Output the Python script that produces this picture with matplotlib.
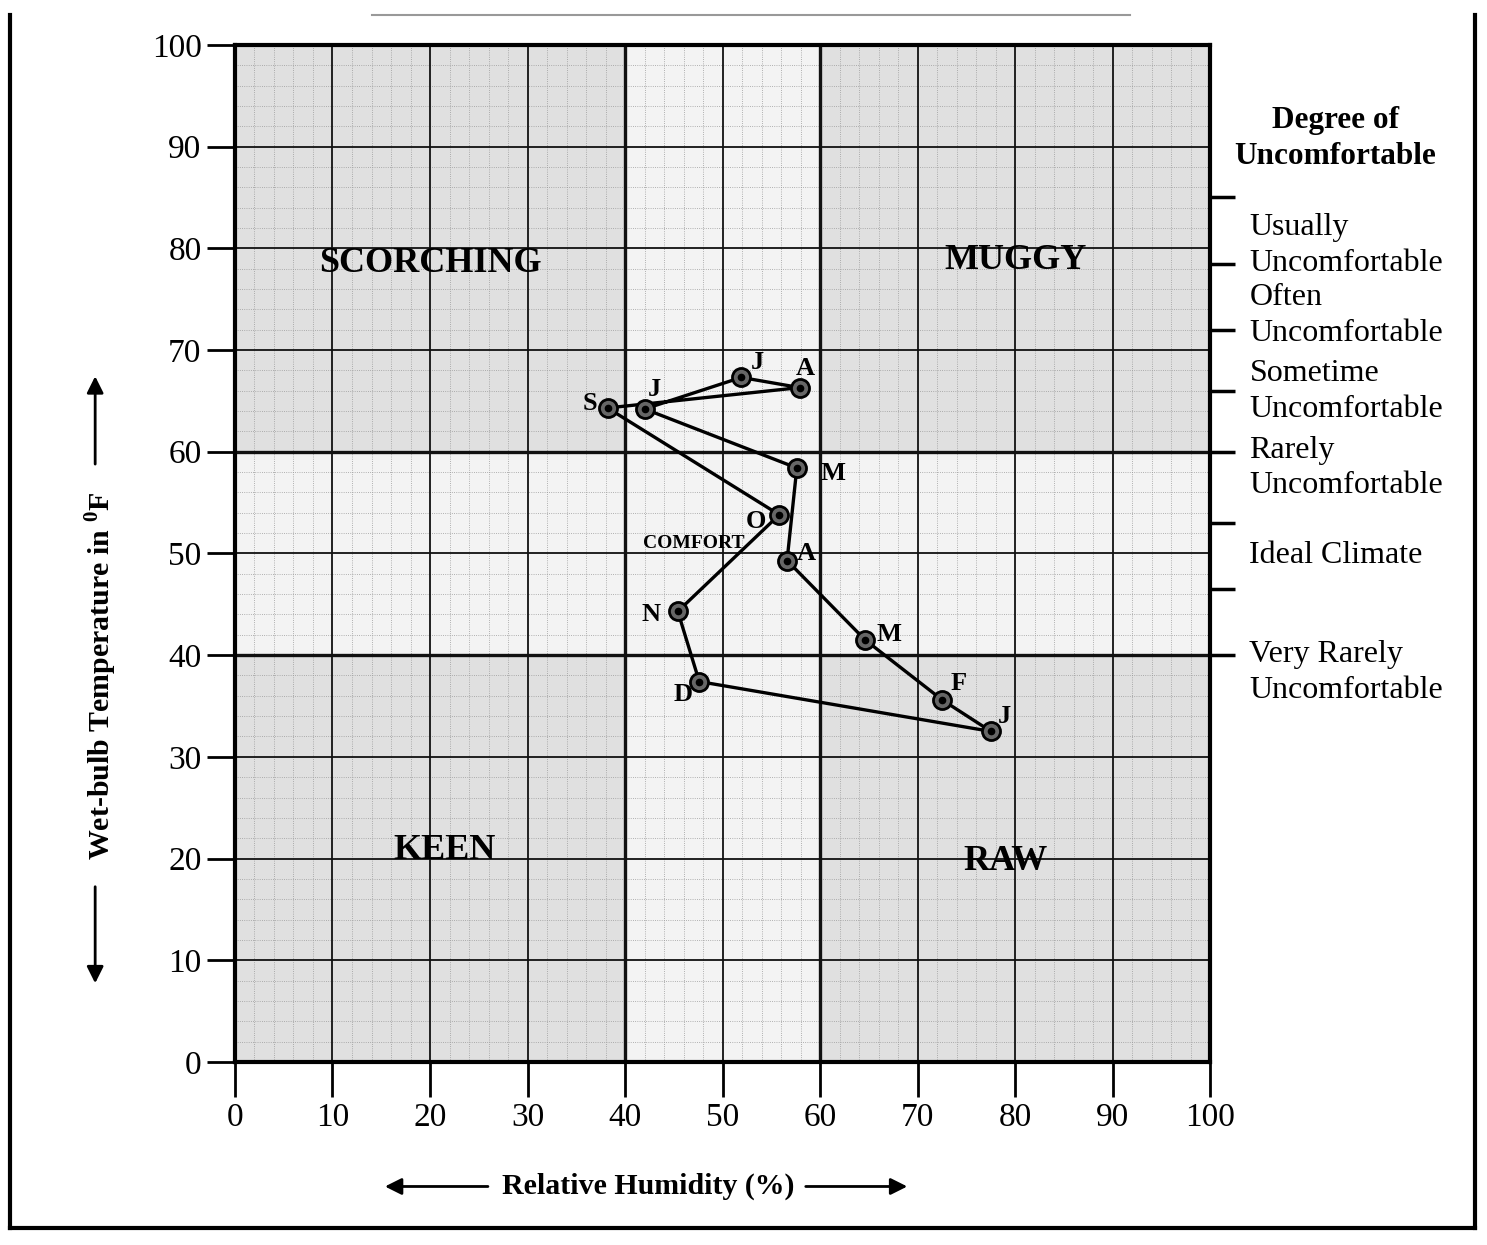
import matplotlib.pyplot as plt
from matplotlib.patches import Rectangle, FancyArrowPatch
from matplotlib.lines import Line2D

plt.rcParams['font.family'] = ['Liberation Serif', 'DejaVu Serif']
plt.rcParams['mathtext.fontset'] = 'stix'

# monthly values (Jan..Dec), path closes back to Jan
months = ['J', 'F', 'M', 'A', 'M', 'J', 'J', 'A', 'S', 'O', 'N', 'D']
humidity = [77.5, 72.5, 64.6, 56.6, 57.6, 42.0, 51.9, 57.9, 38.2, 55.8, 45.4, 47.6]
wet_bulb = [32.5, 35.6, 41.5, 49.3, 58.4, 64.2, 67.3, 66.3, 64.3, 53.8, 44.3, 37.4]

# label offsets (points) for the month letters
label_offsets = [(10, 11), (12, 12), (17, 4), (14, 5), (26, -4), (7, 14),
                 (12, 11), (4, 14), (-13, 3), (-17, -5), (-19, -2), (-12, -9)]

zones = ['SCORCHING', 'MUGGY', 'KEEN', 'RAW']
zone_x = [20, 80, 21.5, 79]
zone_y = [78.5, 78.8, 20.8, 19.7]

comfort_bounds = [85, 78.5, 72, 66, 60, 53, 46.5, 40]
comfort_labels = ['Usually\nUncomfortable', 'Often\nUncomfortable',
                  'Sometime\nUncomfortable', 'Rarely\nUncomfortable',
                  'Ideal Climate', 'Very Rarely\nUncomfortable']
comfort_label_y = [80.3, 73.4, 65.9, 58.4, 49.8, 38.3]

fig = plt.figure(figsize=(14.87, 12.45), dpi=100)
ax = fig.add_axes([0.158, 0.147, 0.656, 0.817])
ax.set_xlim(0, 100)
ax.set_ylim(0, 100)
ax.set_facecolor('#f3f3f3')

# shaded corner zones
for x0, y0 in [(0, 60), (60, 60), (0, 0), (60, 0)]:
    ax.add_patch(Rectangle((x0, y0), 40, 40, facecolor='#e0e0e0', edgecolor='none', zorder=0))

# fine graph-paper grid
for v in range(2, 100, 2):
    if v % 10:
        ax.axvline(v, color='#9a9a9a', lw=0.6, ls=':', zorder=1)
        ax.axhline(v, color='#9a9a9a', lw=0.6, ls=':', zorder=1)
for v in range(10, 100, 10):
    w = 2.4 if v in (40, 60) else 1.3
    ax.axvline(v, color='#111111', lw=w, zorder=2)
    ax.axhline(v, color='#111111', lw=w, zorder=2)

for s in ax.spines.values():
    s.set_linewidth(3)

ax.set_xticks(range(0, 101, 10))
ax.set_yticks(range(0, 101, 10))
ax.tick_params(axis='x', direction='out', length=25, width=2, labelsize=24, pad=4)
ax.tick_params(axis='y', direction='out', length=20, width=2, labelsize=24, pad=4)

# climograph
xs = humidity + humidity[:1]
ys = wet_bulb + wet_bulb[:1]
ax.plot(xs, ys, color='black', lw=2.4, zorder=5)
ax.plot(humidity, wet_bulb, 'o', ms=13, mfc='#666666', mec='black', mew=2, zorder=6)
ax.plot(humidity, wet_bulb, 'o', ms=4.5, color='black', zorder=7)
for m, x, y, off in zip(months, humidity, wet_bulb, label_offsets):
    ax.annotate(m, (x, y), xytext=off, textcoords='offset points', ha='center', va='center',
                fontsize=19, fontweight='bold', zorder=8)

ax.text(47, 51, 'COMFORT', fontsize=14, fontweight='bold', ha='center', va='center', zorder=8)
for z, x, y in zip(zones, zone_x, zone_y):
    ax.text(x, y, z, fontsize=26, fontweight='bold', ha='center', va='center', zorder=8)

# degree of discomfort scale on the right
ax2 = ax.twinx()
ax2.set_ylim(0, 100)
ax2.set_yticks(comfort_bounds)
ax2.tick_params(axis='y', direction='out', length=18, width=2.5, labelright=False)
for s in ax2.spines.values():
    s.set_visible(False)
for lab, y in zip(comfort_labels, comfort_label_y):
    ax.text(104, y, lab, fontsize=23, ha='left', va='center', linespacing=1.3, clip_on=False)
ax.text(112.8, 90.8, 'Degree of\nUncomfortable', fontsize=22.5, fontweight='bold',
        ha='center', va='center', linespacing=1.3, clip_on=False)

# axis titles with arrows
fig.text(0.068, 0.457, r'Wet-bulb Temperature in $^{\mathregular{0}}$F', rotation=90,
         fontsize=21.5, fontweight='bold', ha='center', va='center')
fig.add_artist(FancyArrowPatch((0.064, 0.625), (0.064, 0.70), transform=fig.transFigure,
                               arrowstyle='-|>', mutation_scale=25, lw=2, color='black'))
fig.add_artist(FancyArrowPatch((0.064, 0.29), (0.064, 0.208), transform=fig.transFigure,
                               arrowstyle='-|>', mutation_scale=25, lw=2, color='black'))
fig.text(0.436, 0.047, 'Relative Humidity (%)', fontsize=21.5, fontweight='bold',
         ha='center', va='center')
fig.add_artist(FancyArrowPatch((0.33, 0.047), (0.257, 0.047), transform=fig.transFigure,
                               arrowstyle='-|>', mutation_scale=25, lw=2, color='black'))
fig.add_artist(FancyArrowPatch((0.54, 0.047), (0.612, 0.047), transform=fig.transFigure,
                               arrowstyle='-|>', mutation_scale=25, lw=2, color='black'))

# page frame
fx0, fx1, fy0, fy1 = 0.0067, 0.992, 0.0137, 0.988
for (a, b) in [((fx0, fy0), (fx1, fy0)), ((fx0, fy0), (fx0, fy1)), ((fx1, fy0), (fx1, fy1))]:
    fig.add_artist(Line2D([a[0], b[0]], [a[1], b[1]], transform=fig.transFigure, color='black', lw=3))
fig.add_artist(Line2D([0.25, 0.76], [fy1, fy1], transform=fig.transFigure, color='#999999', lw=1.5))

fig.savefig('out.png', dpi=100)
